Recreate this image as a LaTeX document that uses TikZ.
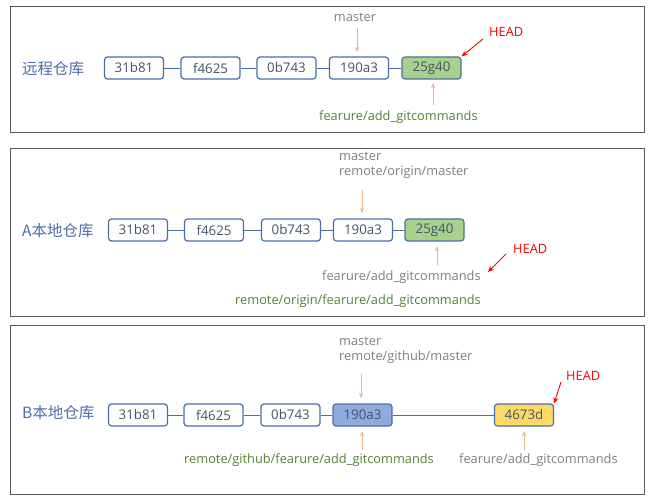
\documentclass[tikz,border=0pt]{standalone}
\usepackage{fontspec}
\setmainfont{Open Sans}
\newfontfamily\cjk{Noto Sans CJK SC}
\usetikzlibrary{arrows.meta}
\definecolor{nodeblue}{HTML}{4A6FA5}
\definecolor{txtblue}{HTML}{44546A}
\definecolor{lblblue}{HTML}{4F6DA8}
\definecolor{gfill}{HTML}{A9D18E}
\definecolor{bfill}{HTML}{8FAADC}
\definecolor{yfill}{HTML}{FFD966}
\definecolor{oarrow}{HTML}{F4B183}
\definecolor{gtext}{HTML}{548235}
\definecolor{graytext}{HTML}{7F7F7F}
\definecolor{panelgray}{HTML}{595959}
\tikzset{
  commit/.style={draw=nodeblue, line width=1.2pt, rounded corners=3pt, minimum width=59pt, minimum height=22pt, inner sep=0pt, text=txtblue, font=\fontsize{13.3}{15}\selectfont, fill=white},
  link/.style={draw=nodeblue, line width=0.9pt},
  panel/.style={draw=panelgray, line width=0.8pt},
  ptr/.style={draw=oarrow, line width=0.9pt, -{Stealth[length=5pt,width=4pt]}},
  headptr/.style={draw=red, line width=0.9pt, -{Stealth[length=6pt,width=5pt]}},
  lbltxt/.style={font=\fontsize{12.8}{14}\selectfont, inner sep=0pt, anchor=west},
  reftxt/.style={lbltxt, text=graytext},
  greentxt/.style={lbltxt, text=gtext},
  headtxt/.style={lbltxt, text=red},
  repolbl/.style={text=lblblue, font=\cjk\fontsize{15.5}{18}\selectfont, inner sep=0pt, anchor=west}
}
\begin{document}
\begin{tikzpicture}[x=1pt,y=-1pt]
\useasboundingbox (0,0) rectangle (654,500);
\fill[white] (0,0) rectangle (654,500);
% panels
\draw[panel] (10,6) rectangle (644,132);
\draw[panel] (10,148) rectangle (644,316);
\draw[panel] (10,325) rectangle (644,494);

% ---- Panel 1 ----
\node[repolbl] (l1) at (22,69) {远程仓库};
\node[commit] (a1) at (134,68) {31b81};
\node[commit] (a2) at (210.5,68) {f4625};
\node[commit] (a3) at (286.5,68) {0b743};
\node[commit] (a4) at (359,68) {190a3};
\node[commit, fill=gfill] (a5) at (431.5,68) {25g40};
\draw[link] (a1) -- (a2);
\draw[link] (a2) -- (a3);
\draw[link] (a3) -- (a4);
\draw[link] (a4) -- (a5);
\node[reftxt, anchor=center] (m1) at (355,17) {master};
\coordinate (m1s) at (357,28);
\coordinate (m1e) at (357,52);
\draw[ptr] (m1s) -- (m1e);
\node[headtxt] (h1) at (489,32) {HEAD};
\coordinate (h1s) at (483,39);
\draw[headptr] (h1s) -- (a5.north east);
\node[greentxt] (f1) at (319,117) {fearure/add\_gitcommands};
\coordinate (f1s) at (433,105);
\coordinate (f1e) at (433,83);
\draw[ptr] (f1s) -- (f1e);

% ---- Panel 2 ----
\node[repolbl] (l2) at (22,231) {A本地仓库};
\node[commit] (b1) at (138,230) {31b81};
\node[commit] (b2) at (214,230) {f4625};
\node[commit] (b3) at (291,230) {0b743};
\node[commit] (b4) at (363,230) {190a3};
\node[commit, fill=gfill] (b5) at (434.5,230) {25g40};
\draw[link] (b1) -- (b2);
\draw[link] (b2) -- (b3);
\draw[link] (b3) -- (b4);
\draw[link] (b4) -- (b5);
\node[reftxt] (m2) at (339,156) {master};
\node[reftxt] (r2) at (339,172) {remote/origin/master};
\coordinate (m2s) at (362,190);
\coordinate (m2e) at (362,213);
\draw[ptr] (m2s) -- (m2e);
\node[headtxt] (h2) at (513,249) {HEAD};
\node[reftxt] (f2) at (322,277) {fearure/add\_gitcommands};
\coordinate (h2s) at (506,254);
\coordinate (h2e) at (488,272);
\draw[headptr] (h2s) -- (h2e);
\coordinate (f2s) at (437,265);
\coordinate (f2e) at (437,246);
\draw[ptr] (f2s) -- (f2e);
\node[greentxt] (g2) at (235,301) {remote/origin/fearure/add\_gitcommands};

% ---- Panel 3 ----
\node[repolbl] (l3) at (22,413) {B本地仓库};
\node[commit] (c1) at (138,415) {31b81};
\node[commit] (c2) at (213.5,415) {f4625};
\node[commit] (c3) at (290.5,415) {0b743};
\node[commit, fill=bfill] (c4) at (362.5,415) {190a3};
\node[commit, fill=yfill] (c5) at (524,415) {4673d};
\draw[link] (c1) -- (c2);
\draw[link] (c2) -- (c3);
\draw[link] (c3) -- (c4);
\draw[link] (c4) -- (c5);
\node[reftxt] (m3) at (339,341) {master};
\node[reftxt] (r3) at (339,357) {remote/github/master};
\coordinate (m3s) at (361,374);
\coordinate (m3e) at (361,398);
\draw[ptr] (m3s) -- (m3e);
\node[headtxt] (h3) at (566,376) {HEAD};
\coordinate (h3s) at (561,382);
\draw[headptr] (h3s) -- (c5.north east);
\coordinate (g3s) at (362,450);
\coordinate (g3e) at (362,431);
\draw[ptr] (g3s) -- (g3e);
\node[greentxt] (g3) at (184,460) {remote/github/fearure/add\_gitcommands};
\coordinate (f3s) at (524,450);
\coordinate (f3e) at (524,431);
\draw[ptr] (f3s) -- (f3e);
\node[reftxt] (f3) at (459,460) {fearure/add\_gitcommands};
\end{tikzpicture}
\end{document}
